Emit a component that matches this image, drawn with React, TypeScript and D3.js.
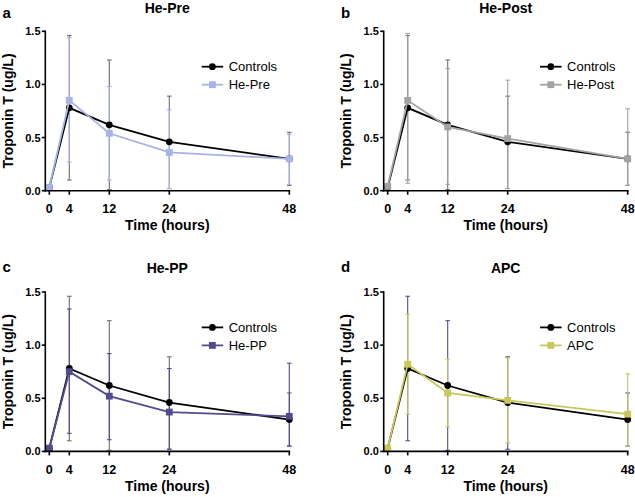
import * as d3 from "d3";

const hours = [0, 4, 12, 24, 48];
const yTicks = [0, 0.5, 1.0, 1.5];

const controlsMean = [0.03, 0.78, 0.62, 0.46, 0.3];
const controlsUpper = [0.03, 1.46, 1.23, 0.89, 0.55];
const controlsLower = [0.03, 0.1, 0.01, 0.02, 0.05];

const hePreMean = [0.03, 0.85, 0.54, 0.36, 0.3];
const hePreUpper = [0.03, 1.44, 0.98, 0.76, 0.53];
const hePreLower = [0.03, 0.27, 0.1, 0.02, 0.06];

const hePostMean = [0.04, 0.85, 0.6, 0.49, 0.3];
const hePostUpper = [0.04, 1.48, 1.15, 1.04, 0.77];
const hePostLower = [0.04, 0.07, 0.06, 0.02, 0.05];

const hePPMean = [0.03, 0.75, 0.52, 0.37, 0.33];
const hePPUpper = [0.03, 1.34, 0.92, 0.78, 0.83];
const hePPLower = [0.03, 0.17, 0.11, 0.02, 0.05];

const apcMean = [0.03, 0.82, 0.55, 0.48, 0.35];
const apcUpper = [0.03, 1.29, 0.87, 0.88, 0.73];
const apcLower = [0.03, 0.35, 0.23, 0.08, 0.05];

type Series = { mean: number[]; upper: number[]; lower: number[] };

type PanelDef = {
	letter: string;
	title: string;
	treat: Series;
	color: string;
	ctrlErrColor: string;
	ox: number;
	oy: number;
	letterY: number;
};

const controls: Series = { mean: controlsMean, upper: controlsUpper, lower: controlsLower };

const panels: PanelDef[] = [
	{ letter: "a", title: "He-Pre", treat: { mean: hePreMean, upper: hePreUpper, lower: hePreLower }, color: "#a6b3e4", ctrlErrColor: "#6e6e6e", ox: 0, oy: 0, letterY: 17.5 },
	{ letter: "b", title: "He-Post", treat: { mean: hePostMean, upper: hePostUpper, lower: hePostLower }, color: "#a2a2a2", ctrlErrColor: "#6e6e6e", ox: 338.4, oy: 0, letterY: 17.5 },
	{ letter: "c", title: "He-PP", treat: { mean: hePPMean, upper: hePPUpper, lower: hePPLower }, color: "#524b8f", ctrlErrColor: "#6e6e6e", ox: 0, oy: 260.7, letterY: 11 },
	{ letter: "d", title: "APC", treat: { mean: apcMean, upper: apcUpper, lower: apcLower }, color: "#c9c65a", ctrlErrColor: "#4d4f98", ox: 338.4, oy: 260.7, letterY: 11 },
];

const FONT = "'Liberation Sans', Arial, sans-serif";

const x = d3.scaleLinear().domain([-0.8, 48]).range([45.3, 289.3]);
const y = d3.scaleLinear().domain([0, 1.5]).range([190.7, 31.3]);

function ErrorBars({ s, color }: { s: Series; color: string }) {
	return (
		<g stroke={color} strokeWidth={1.1}>
			{hours.map((h, i) => {
				if (s.upper[i] - s.lower[i] < 0.02) return null;
				const cx = x(h);
				return (
					<g key={i}>
						<line x1={cx} x2={cx} y1={y(s.upper[i])} y2={y(s.lower[i])} />
						<line x1={cx - 2.3} x2={cx + 2.3} y1={y(s.upper[i])} y2={y(s.upper[i])} />
						<line x1={cx - 2.3} x2={cx + 2.3} y1={y(s.lower[i])} y2={y(s.lower[i])} />
					</g>
				);
			})}
		</g>
	);
}

function Panel({ p }: { p: PanelDef }) {
	const line = d3
		.line<number>()
		.x((_, i) => x(hours[i]))
		.y((d) => y(d));
	const x0 = x.range()[0];
	const x1 = x.range()[1];
	const yBase = y(0);
	const midX = (x0 + x1) / 2;
	const midY = (y.range()[0] + y.range()[1]) / 2;
	const fmt = d3.format(".1f");
	const legX = 201.7;
	const legY = [66.7, 84.7];

	return (
		<g transform={`translate(${p.ox},${p.oy})`} fontFamily={FONT}>
			<text x={2.5} y={p.letterY} fontSize={15} fontWeight="bold">
				{p.letter}
			</text>
			<text x={midX} y={12.5} fontSize={14} fontWeight="bold" textAnchor="middle">
				{p.title}
			</text>

			<ErrorBars s={controls} color={p.ctrlErrColor} />
			<ErrorBars s={p.treat} color={p.color} />

			<path d={line(controls.mean) ?? ""} fill="none" stroke="#000" strokeWidth={1.8} />
			{controls.mean.map((v, i) => (
				<circle key={i} cx={x(hours[i])} cy={y(v)} r={3.4} fill="#000" />
			))}
			<path d={line(p.treat.mean) ?? ""} fill="none" stroke={p.color} strokeWidth={1.8} />
			{p.treat.mean.map((v, i) => (
				<rect key={i} x={x(hours[i]) - 3.4} y={y(v) - 3.4} width={6.8} height={6.8} fill={p.color} />
			))}

			{/* axes */}
			<line x1={x0} x2={x0} y1={y(1.5) - 0.8} y2={yBase + 0.8} stroke="#000" strokeWidth={1.6} />
			<line x1={x0 - 0.8} x2={x1 + 0.8} y1={yBase} y2={yBase} stroke="#000" strokeWidth={1.6} />
			{yTicks.map((t) => (
				<g key={t}>
					<line x1={x0 - 3.5} x2={x0} y1={y(t)} y2={y(t)} stroke="#000" strokeWidth={1.6} />
					<text x={40.5} y={y(t)} dy="0.36em" fontSize={11} fontWeight="bold" textAnchor="end">
						{fmt(t)}
					</text>
				</g>
			))}
			{hours.map((h) => (
				<g key={h}>
					<line x1={x(h)} x2={x(h)} y1={yBase} y2={yBase + 4} stroke="#000" strokeWidth={1.6} />
					<text x={x(h)} y={213} fontSize={12.5} fontWeight="bold" textAnchor="middle">
						{h}
					</text>
				</g>
			))}
			<text x={midX} y={230} fontSize={14} fontWeight="bold" textAnchor="middle">
				Time (hours)
			</text>
			<text
				transform={`translate(13,${midY}) rotate(-90)`}
				fontSize={14}
				fontWeight="bold"
				textAnchor="middle"
			>
				Troponin T (ug/L)
			</text>

			{/* legend */}
			<line x1={legX} x2={legX + 21.5} y1={legY[0]} y2={legY[0]} stroke="#000" strokeWidth={1.8} />
			<circle cx={legX + 10.7} cy={legY[0]} r={3.4} fill="#000" />
			<text x={legX + 27} y={legY[0]} dy="0.36em" fontSize={13}>
				Controls
			</text>
			<line x1={legX} x2={legX + 21.5} y1={legY[1]} y2={legY[1]} stroke={p.color} strokeWidth={1.8} />
			<rect x={legX + 10.7 - 3.4} y={legY[1] - 3.4} width={6.8} height={6.8} fill={p.color} />
			<text x={legX + 27} y={legY[1]} dy="0.36em" fontSize={13}>
				{p.title}
			</text>
		</g>
	);
}

export default function App() {
	return (
		<svg
			width={635}
			height={497}
			style={{ position: "absolute", left: 0, top: 0, background: "#fff" }}
		>
			{panels.map((p) => (
				<Panel key={p.letter} p={p} />
			))}
		</svg>
	);
}
